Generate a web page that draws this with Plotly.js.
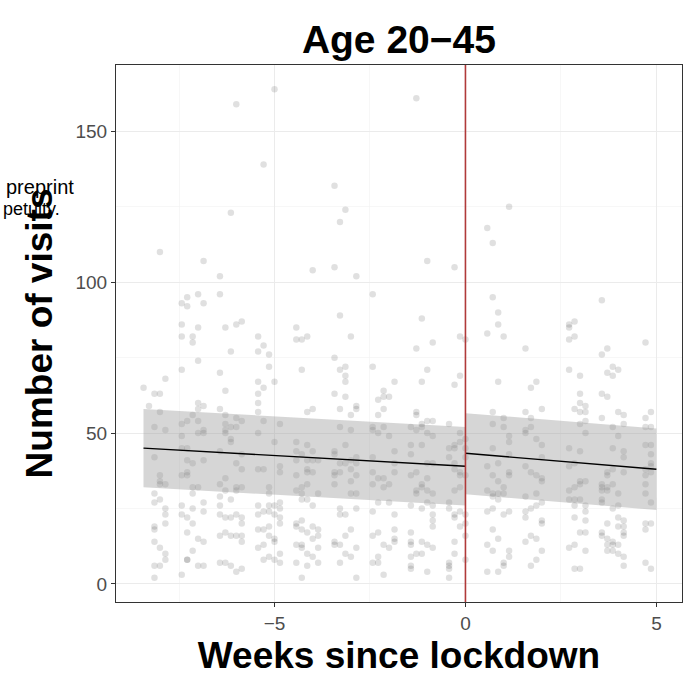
<!DOCTYPE html>
<html>
<head>
<meta charset="utf-8">
<script src="https://cdn.plot.ly/plotly-3.0.1.min.js"></script>
<style>html,body{margin:0;padding:0;background:#fff;}#chart{width:686px;height:685px;}</style>
</head>
<body>
<div id="chart"></div>
<script>
// Day offsets relative to lockdown (days), and number of visits
const preDays = [
 -59,
 -58,
 -57,-57,-57,-57,-57,-57,-57,-57,-57,-57,
 -56,-56,-56,-56,-56,-56,-56,-56,-56,
 -55,-55,-55,-55,-55,-55,-55,-55,
 -52,-52,-52,-52,-52,-52,-52,-52,-52,-52,-52,
 -51,-51,-51,-51,-51,-51,-51,-51,-51,-51,-51,
 -50,-50,-50,-50,-50,-50,-50,-50,-50,
 -49,-49,-49,-49,-49,-49,-49,-49,-49,-49,
 -48,-48,-48,-48,-48,-48,-48,-48,-48,-48,
 -45,-45,-45,-45,-45,-45,-45,-45,-45,-45,-45,
 -44,-44,-44,-44,-44,-44,-44,-44,-44,-44,-44,
 -43,-43,-43,-43,-43,-43,-43,-43,-43,
 -42,-42,-42,-42,-42,-42,-42,-42,-42,-42,
 -41,-41,-41,-41,-41,-41,-41,-41,-41,-41,
 -38,-38,-38,-38,-38,-38,-38,-38,-38,-38,-38,-38,
 -37,-37,-37,-37,-37,-37,-37,-37,-37,
 -36,-36,-36,-36,-36,-36,-36,-36,-36,
 -35,-35,-35,-35,-35,-35,-35,-35,
 -34,-34,-34,-34,-34,-34,-34,-34,-34,
 -31,-31,-31,-31,-31,-31,-31,-31,-31,-31,-31,
 -30,-30,-30,-30,-30,-30,-30,-30,-30,-30,-30,
 -29,-29,-29,-29,-29,-29,-29,-29,-29,-29,-29,
 -28,-28,-28,-28,-28,-28,-28,-28,-28,
 -27,-27,-27,-27,-27,-27,
 -24,-24,-24,-24,-24,-24,-24,-24,-24,-24,-24,
 -23,-23,-23,-23,-23,-23,-23,-23,-23,-23,-23,
 -22,-22,-22,-22,-22,-22,-22,-22,-22,-22,
 -21,-21,-21,-21,-21,-21,-21,-21,-21,
 -20,-20,-20,-20,-20,-20,-20,-20,-20,-20,
 -17,-17,-17,-17,-17,-17,-17,-17,-17,-17,
 -16,-16,-16,-16,-16,-16,-16,-16,
 -15,-15,-15,-15,-15,-15,-15,-15,
 -14,-14,-14,-14,-14,
 -13,-13,-13,-13,-13,-13,-13,-13,
 -10,-10,-10,-10,-10,-10,-10,-10,-10,-10,-10,
 -9,-9,-9,-9,-9,-9,-9,-9,-9,
 -8,-8,-8,-8,-8,-8,-8,-8,-8,-8,
 -7,-7,-7,-7,-7,-7,-7,-7,-7,-7,
 -6,-6,-6,-6,-6,-6,-6,-6,-6,-6,
 -3,-3,-3,-3,-3,-3,-3,-3,-3,
 -2,-2,-2,-2,-2,-2,-2,-2,-2,-2,-2,
 -1,-1,-1,-1,-1,-1,-1,-1,-1,
 0,0,0,0,0,0,0,0,0
];
const preVisits = [
 65,
 59,
 63,52,42,30,27,19,18,14,6,2,
 110,63,57,36,34,33,28,12,6,
 68,51,33,25,23,20,10,8,
 93,86,82,71,53,49,45,36,26,23,3,
 95,92,54,45,41,37,36,22,17,8,8,
 82,80,56,40,32,30,25,20,11,
 96,85,74,60,58,54,50,32,15,6,
 107,93,59,51,50,41,27,24,14,6,
 102,96,70,58,44,33,29,26,23,16,7,
 85,64,56,53,51,50,35,31,22,17,7,
 123,77,52,48,47,28,22,16,6,
 159,86,55,52,40,32,31,23,16,4,
 87,54,43,38,32,22,20,16,14,5,
 82,77,67,63,60,57,50,38,26,23,18,12,
 139,79,65,54,38,24,18,13,8,
 76,72,32,30,26,24,19,16,9,
 164,67,47,26,23,15,14,8,
 53,39,37,27,25,22,20,10,7,
 85,81,47,44,41,36,31,20,19,13,7,
 81,71,43,32,30,28,21,18,13,12,2,
 82,57,46,41,38,37,33,28,17,10,6,
 104,58,44,41,37,26,19,15,9,
 41,30,18,16,12,7,
 132,105,75,63,44,43,37,36,33,14,13,
 120,89,71,58,52,40,37,25,23,13,7,
 124,72,69,67,62,46,40,23,16,10,
 82,56,51,41,38,34,30,18,9,
 102,59,58,42,40,36,30,25,12,2,
 96,72,52,51,42,37,33,24,16,7,
 61,56,50,35,27,17,9,7,
 64,62,58,52,35,32,13,3,
 62,49,33,27,12,
 67,44,40,37,23,18,15,14,
 52,46,43,36,26,17,14,13,9,6,5,
 161,78,57,56,51,37,31,30,10,
 88,67,53,52,46,33,32,25,14,10,
 107,71,54,50,40,35,31,27,13,4,
 80,54,49,40,30,26,23,21,19,12,
 53,45,42,27,25,7,6,5,2,
 105,66,46,45,40,38,31,23,22,14,10,
 82,69,50,47,37,36,32,24,19,
 81,48,45,42,36,23,20,16,8
];
const postDays = [
 4,4,4,4,4,4,4,
 5,5,5,5,5,5,5,5,5,5,5,
 6,6,6,6,6,6,6,6,6,
 7,7,7,7,7,7,7,7,
 8,8,8,8,8,8,8,8,8,
 11,11,11,11,11,11,11,11,11,
 12,12,12,12,12,12,12,
 13,13,13,13,13,13,13,
 14,14,14,14,14,14,14,14,14,
 19,19,19,19,19,19,19,19,19,
 20,20,20,20,20,20,20,20,20,20,
 21,21,21,21,21,21,21,21,21,21,21,
 22,22,22,22,22,22,22,22,22,22,
 25,25,25,25,25,25,25,25,25,25,25,
 26,26,26,26,26,26,26,26,26,26,26,
 27,27,27,27,27,27,27,27,27,27,
 28,28,28,28,28,28,28,28,28,
 29,29,29,29,29,29,29,29,29,29,29,
 33,33,33,33,33,33,33,33,33,33,33,
 34,34,34,34,34,34,34,34,34,34
];
const postVisits = [
 118,83,39,31,24,13,4,
 113,95,57,53,45,36,30,29,25,18,11,
 90,86,67,40,34,30,28,15,4,
 82,55,52,32,30,23,7,6,
 125,49,47,43,37,36,24,11,9,
 78,57,51,50,39,29,24,22,14,
 65,55,52,37,25,16,6,
 67,48,36,30,26,15,8,
 58,46,42,35,34,27,21,20,11,
 86,85,81,71,45,39,31,28,12,
 87,82,58,40,32,28,26,22,13,5,
 69,63,60,57,53,44,34,33,28,17,5,
 59,57,54,50,34,26,24,21,17,11,
 94,76,63,55,33,32,31,28,27,17,16,
 78,70,62,37,36,32,31,20,15,13,11,
 72,69,52,45,38,33,25,14,13,11,
 71,57,49,30,26,22,19,13,10,
 56,53,44,42,37,21,19,17,16,9,6,
 80,55,52,46,38,36,33,30,20,18,7,
 57,52,46,43,40,39,37,27,20,5
];

// Fitted segmented regression (weeks) with 95% confidence band
const preFitWeeks = [-8.43, 0];
const preFit = [45, 39];
const preUpper = [58, 52];
const preLower = [32, 26];
const postFitWeeks = [0, 5];
const postFit = [43.3, 38];
const postUpper = [56.6, 51.5];
const postLower = [29.7, 24.5];

const lockdownWeek = 0;

const toWeeks = d => d.map(v => v / 7);
const FONT = '"Liberation Sans", Arial, Helvetica, sans-serif';

const traces = [
  {
    type: 'scatter', mode: 'markers',
    x: toWeeks(preDays.concat(postDays)), y: preVisits.concat(postVisits),
    marker: {size: 6.5, color: 'rgba(0,0,0,0.12)', line: {width: 0}},
    hoverinfo: 'skip', showlegend: false
  },
  // pre ribbon
  {type: 'scatter', mode: 'lines', x: preFitWeeks, y: preLower, line: {width: 0}, hoverinfo: 'skip', showlegend: false},
  {type: 'scatter', mode: 'lines', x: preFitWeeks, y: preUpper, fill: 'tonexty', fillcolor: 'rgba(153,153,153,0.4)', line: {width: 0}, hoverinfo: 'skip', showlegend: false},
  // post ribbon
  {type: 'scatter', mode: 'lines', x: postFitWeeks, y: postLower, line: {width: 0}, hoverinfo: 'skip', showlegend: false},
  {type: 'scatter', mode: 'lines', x: postFitWeeks, y: postUpper, fill: 'tonexty', fillcolor: 'rgba(153,153,153,0.4)', line: {width: 0}, hoverinfo: 'skip', showlegend: false},
  {type: 'scatter', mode: 'lines', x: preFitWeeks, y: preFit, line: {color: '#000', width: 1.4}, hoverinfo: 'skip', showlegend: false},
  {type: 'scatter', mode: 'lines', x: postFitWeeks, y: postFit, line: {color: '#000', width: 1.4}, hoverinfo: 'skip', showlegend: false}
];

const layout = {
  width: 686, height: 685,
  margin: {l: 116, r: 4, t: 65, b: 83},
  paper_bgcolor: '#fff', plot_bgcolor: '#fff',
  font: {family: FONT, color: '#000'},
  title: {text: '<b>Age 20\u221245</b>', font: {family: FONT, size: 39, color: '#000'},
          x: 0.5815, xanchor: 'center', y: 0.943, yanchor: 'middle'},
  xaxis: {
    range: [-9.15, 5.67], zeroline: false,
    tickmode: 'array', tickvals: [-5, 0, 5], ticktext: ['\u22125', '0', '5'],
    ticks: 'outside', ticklen: 4, tickcolor: '#333', tickwidth: 1,
    tickfont: {family: FONT, size: 19, color: '#4d4d4d'},
    showgrid: true, gridcolor: '#ebebeb', gridwidth: 1.1,
    minor: {tickvals: [-7.5, -2.5, 2.5], showgrid: true, gridcolor: '#f2f2f2', gridwidth: 0.6, ticks: ''},
    showline: true, mirror: true, linecolor: '#333', linewidth: 1,
    title: {text: '<b>Weeks since lockdown</b>', font: {family: FONT, size: 37, color: '#000'}, standoff: 9},
    automargin: false
  },
  yaxis: {
    range: [-6, 172], zeroline: false,
    tickmode: 'array', tickvals: [0, 50, 100, 150],
    ticks: 'outside', ticklen: 4, tickcolor: '#333', tickwidth: 1,
    tickfont: {family: FONT, size: 19, color: '#4d4d4d'},
    showgrid: true, gridcolor: '#ebebeb', gridwidth: 1.1,
    minor: {tickvals: [25, 75, 125], showgrid: true, gridcolor: '#f2f2f2', gridwidth: 0.6, ticks: ''},
    showline: true, mirror: true, linecolor: '#333', linewidth: 1,
    title: {text: '<b>Number of visits</b>', font: {family: FONT, size: 37, color: '#000'}, standoff: 11},
    automargin: false
  },
  shapes: [
    {type: 'line', xref: 'x', yref: 'paper', x0: lockdownWeek, x1: lockdownWeek, y0: 0, y1: 1,
     line: {color: '#b03a3a', width: 1.6}, layer: 'above'}
  ],
  annotations: [
    {xref: 'paper', yref: 'paper', x: -0.198, y: 0.772, xanchor: 'left', yanchor: 'middle', showarrow: false,
     text: 'preprint', font: {family: FONT, size: 20, color: '#000'}},
    {xref: 'paper', yref: 'paper', x: -0.204, y: 0.731, xanchor: 'left', yanchor: 'middle', showarrow: false,
     text: 'petuity.', font: {family: FONT, size: 18, color: '#000'}}
  ]
};

Plotly.newPlot('chart', traces, layout, {displayModeBar: false, staticPlot: true});
</script>
</body>
</html>
